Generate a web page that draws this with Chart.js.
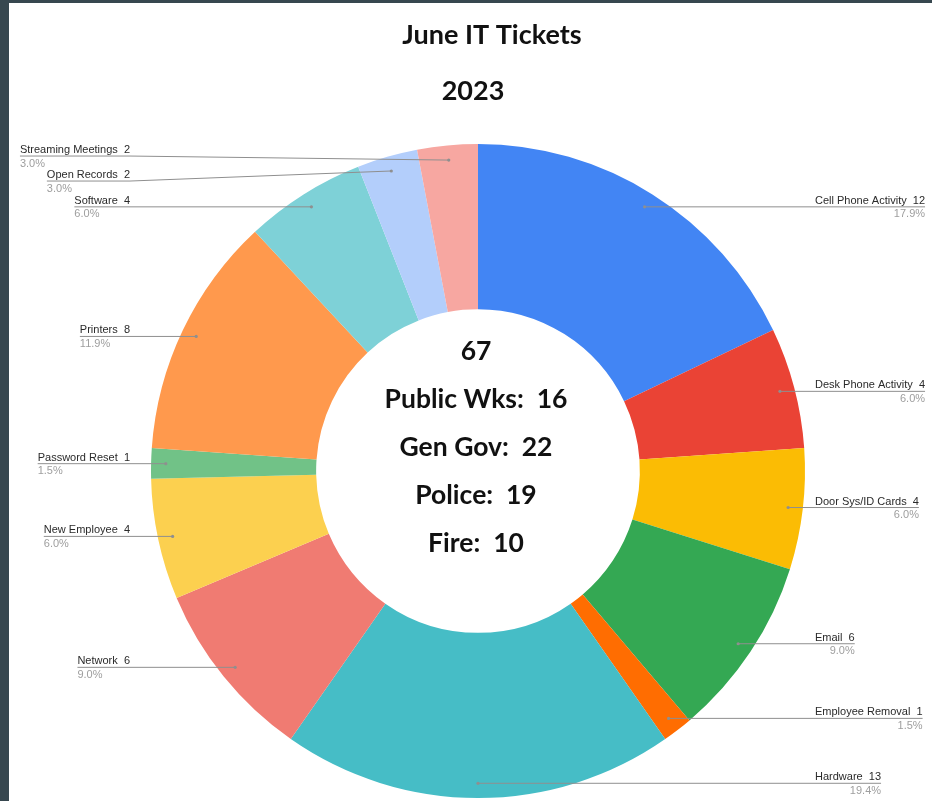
<!DOCTYPE html>
<html>
<head>
<meta charset="utf-8">
<script src="https://cdn.jsdelivr.net/npm/chart.js@4.4.0/dist/chart.umd.min.js"></script>
<style>
  html, body { margin: 0; padding: 0; background: #37474f; overflow: hidden; }
  #wrap { position: absolute; left: 9px; top: 3px; width: 923px; height: 798px; background: #fff; }
</style>
</head>
<body>
<div id="wrap"><canvas id="ticketChart"></canvas></div>
<script>
const categories = [
  "Cell Phone Activity", "Desk Phone Activity", "Door Sys/ID Cards", "Email",
  "Employee Removal", "Hardware", "Network", "New Employee", "Password Reset",
  "Printers", "Software", "Open Records", "Streaming Meetings"
];
const tickets = [12, 4, 4, 6, 1, 13, 6, 4, 1, 8, 4, 2, 2];
const sliceColors = [
  "#4285f4", "#ea4335", "#fbbc04", "#34a853", "#ff6d01", "#46bdc6", "#f07b72",
  "#fcd04f", "#71c287", "#ff994d", "#7ed1d7", "#b3cefb", "#f7a7a1"
];
const departments = ["Public Wks", "Gen Gov", "Police", "Fire"];
const deptTickets = [16, 22, 19, 10];
const titleLines = ["June IT Tickets", "2023"];

const total = tickets.reduce((a, b) => a + b, 0);

// spread labels on one side so they don't overlap
function spread(items, gap) {
  items.sort((a, b) => a.ay - b.ay);
  let groups = items.map((it) => ({ members: [it], y0: it.ay }));
  let merged = true;
  while (merged) {
    merged = false;
    for (let i = 0; i < groups.length - 1; i++) {
      const a = groups[i], b = groups[i + 1];
      if (a.y0 + a.members.length * gap > b.y0) {
        const m = a.members.concat(b.members);
        const mean = m.reduce((s, it) => s + it.ay, 0) / m.length;
        groups.splice(i, 2, { members: m, y0: mean - ((m.length - 1) * gap) / 2 + 3 });
        merged = true;
        break;
      }
    }
  }
  groups.forEach((g) => g.members.forEach((it, k) => (it.y = g.y0 + k * gap)));
}

const calloutLabels = {
  id: "calloutLabels",
  afterDatasetsDraw(chart) {
    const ctx = chart.ctx;
    const arcs = chart.getDatasetMeta(0).data;
    const left = [], right = [];
    arcs.forEach((arc, i) => {
      const p = arc.getProps(["x", "y", "startAngle", "endAngle", "outerRadius"], true);
      const mid = (p.startAngle + p.endAngle) / 2;
      const r = p.outerRadius * 0.955;
      const item = {
        ax: p.x + Math.cos(mid) * r,
        ay: p.y + Math.sin(mid) * r,
        cx: p.x,
        R: p.outerRadius,
        name: categories[i] + "  " + tickets[i],
        pct: ((tickets[i] / total) * 100).toFixed(1) + "%",
      };
      (Math.cos(mid) > -1e-6 ? right : left).push(item);
    });
    spread(left, 25);
    spread(right, 25);

    ctx.save();
    ctx.font = '11px "Liberation Sans", Arial, sans-serif';
    ctx.strokeStyle = "#8f8f8f";
    ctx.lineWidth = 1;
    const drawOne = (it, isLeft) => {
      const w = Math.max(ctx.measureText(it.name).width, ctx.measureText(it.pct).width);
      const edge = isLeft ? it.cx - it.R - 21 : it.cx + it.R + 10;
      const outer = isLeft ? edge - w : edge + w;
      ctx.beginPath();
      ctx.moveTo(outer, it.y);
      ctx.lineTo(edge, it.y);
      ctx.lineTo(it.ax, it.ay);
      ctx.stroke();
      ctx.fillStyle = "#8f8f8f";
      ctx.beginPath();
      ctx.arc(it.ax, it.ay, 1.6, 0, Math.PI * 2);
      ctx.fill();
      ctx.textAlign = isLeft ? "left" : "right";
      ctx.textBaseline = "alphabetic";
      ctx.fillStyle = "#2a2a2a";
      ctx.fillText(it.name, outer, it.y - 3);
      ctx.textBaseline = "top";
      ctx.fillStyle = "#9e9e9e";
      ctx.fillText(it.pct, outer, it.y + 2);
    };
    left.forEach((it) => drawOne(it, true));
    right.forEach((it) => drawOne(it, false));
    ctx.restore();
  },
  afterDraw(chart) {
    const ctx = chart.ctx;
    const arc = chart.getDatasetMeta(0).data[0];
    const cx = arc.x, cy = arc.y;
    ctx.save();
    ctx.fillStyle = "#111";
    ctx.textAlign = "center";
    ctx.textBaseline = "middle";
    ctx.font = 'bold 27px Lato, "Open Sans", sans-serif';
    // titles
    ctx.fillText(titleLines[0], cx + 14, 32);
    ctx.fillText(titleLines[1], cx - 5, 88);
    // center summary
    ctx.font = 'bold 26.5px Lato, "Open Sans", sans-serif';
    const lines = [String(total)].concat(departments.map((d, i) => d + ":  " + deptTickets[i]));
    lines.forEach((t, i) => ctx.fillText(t, cx - 2, cy - 120 + i * 48));
    ctx.restore();
  },
};

new Chart(document.getElementById("ticketChart"), {
  type: "doughnut",
  data: {
    labels: categories,
    datasets: [
      {
        data: tickets,
        backgroundColor: sliceColors,
        borderWidth: 0,
        hoverOffset: 0,
      },
    ],
  },
  options: {
    responsive: true,
    maintainAspectRatio: false,
    animation: false,
    cutout: "49.5%",
    layout: { padding: { left: 142, right: 127, top: 141, bottom: 3 } },
    plugins: {
      legend: { display: false },
      tooltip: { enabled: false },
      title: { display: false },
    },
  },
  plugins: [calloutLabels],
});
</script>
</body>
</html>
